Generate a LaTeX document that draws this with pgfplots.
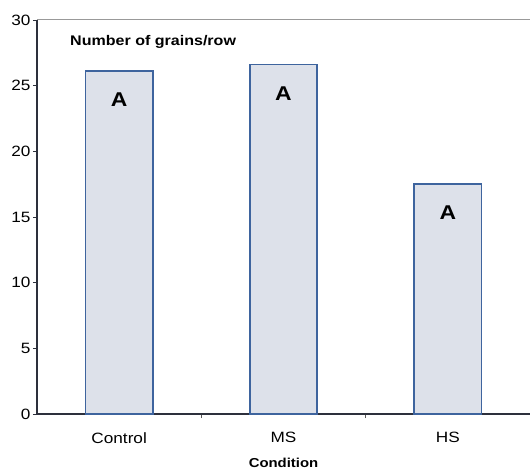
\documentclass[border=0pt]{standalone}
\usepackage{fontspec}
\setmainfont{Liberation Sans}[FakeStretch=1.15]
\usepackage{pgfplots}
\pgfplotsset{compat=1.18}
\usetikzlibrary{calc}
\definecolor{barfill}{RGB}{221,225,234}
\definecolor{baredge}{RGB}{62,100,158}
\definecolor{axiscol}{RGB}{45,48,60}
\begin{document}
\begin{tikzpicture}
\begin{axis}[
  scale only axis, width=493bp, height=394bp,
  xmin=-0.5, xmax=2.5, ymin=0, ymax=30,
  axis x line*=bottom, axis y line*=left,
  axis line style={axiscol, line width=1.2pt},
  ybar, bar width=0.41,
  ytick={0,5,10,15,20,25,30},
  xtick={0.5,1.5}, xticklabels={},
  extra x ticks={0,1,2}, extra x tick labels={Control,MS,HS},
  extra x tick style={major tick length=0pt},
  tick align=outside,
  major tick length=4bp,
  x tick style={gray!70!black, line width=1.4pt},
  y tick style={axiscol, line width=0.9pt},
  /pgf/number format/assume math mode=true,
  tick label style={font=\fontsize{15}{15}\selectfont},
  xticklabel style={yshift=-6bp},
  extra x tick style={xticklabel style={yshift=-9bp}},
  yticklabel style={xshift=1bp},
  xlabel={\textbf{Condition}},
  xlabel style={font=\fontsize{13}{13}\selectfont, yshift=-4bp},
  clip=false,
]
\addplot[fill=barfill, draw=baredge, line width=1.5pt,
  nodes near coords={\textbf{A}},
  every node near coord/.append style={anchor=north, yshift=-18bp, font=\fontsize{20}{20}\selectfont, text=black}]
  coordinates {(0,26.1) (1,26.6) (2,17.5)};
\draw[gray!80, line width=1pt] (rel axis cs:0,1) -- (rel axis cs:1,1);
\node[anchor=west, inner sep=0pt, font=\bfseries\fontsize{14}{14}\selectfont] at (rel axis cs:0.067,0.945) {Number of grains/row};
\coordinate (sw) at (rel axis cs:0,0);
\coordinate (ne) at (rel axis cs:1,1);
\end{axis}
\pgfresetboundingbox
\path[use as bounding box] ($(sw)+(-37bp,-59bp)$) rectangle ($(ne)+(0bp,20bp)$);
\end{tikzpicture}
\end{document}
